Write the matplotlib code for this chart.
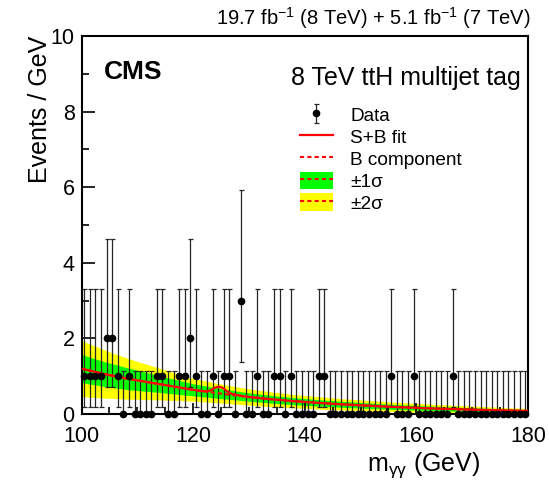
import numpy as np
import matplotlib.pyplot as plt
from matplotlib.lines import Line2D
from matplotlib.patches import Patch

plt.rcParams['font.family'] = ['Liberation Sans', 'DejaVu Sans']
plt.rcParams['mathtext.fontset'] = 'custom'
plt.rcParams['mathtext.rm'] = 'Liberation Sans'
plt.rcParams['mathtext.it'] = 'Liberation Sans:italic'

# events in 1 GeV bins from 100 to 180 GeV
bin_lo = np.arange(100, 180)
counts = [1, 1, 1, 1, 2, 2, 1, 0, 1, 0,
          0, 0, 0, 1, 1, 0, 0, 1, 1, 2,
          1, 0, 0, 1, 0, 1, 1, 0, 3, 0,
          0, 1, 0, 0, 1, 1, 0, 1, 0, 0,
          0, 0, 1, 1, 0, 0, 0, 0, 0, 0,
          0, 0, 0, 0, 0, 1, 0, 0, 0, 1,
          0, 0, 0, 0, 0, 0, 1, 0, 0, 0,
          0, 0, 0, 0, 0, 0, 0, 0, 0, 0]
# 68% Poisson interval for 0, 1, 2, 3 events
pois_lo = [0.0, 0.173, 0.708, 1.367]
pois_hi = [1.148, 3.300, 4.638, 5.918]

# background fit and its uncertainty bands, every 2 GeV
fit_mass = np.arange(100, 181, 2)
bkg = [1.20, 1.13, 1.06, 1.00, 0.94, 0.89, 0.84, 0.79, 0.74, 0.69,
       0.64, 0.60, 0.56, 0.52, 0.485, 0.45, 0.42, 0.39, 0.365, 0.34,
       0.32, 0.30, 0.28, 0.262, 0.245, 0.23, 0.215, 0.20, 0.187, 0.175,
       0.163, 0.152, 0.142, 0.133, 0.124, 0.116, 0.108, 0.101, 0.094, 0.087,
       0.08]
band1 = [0.37, 0.35, 0.33, 0.31, 0.29, 0.27, 0.245, 0.22, 0.20, 0.18,
         0.16, 0.148, 0.137, 0.127, 0.118, 0.11, 0.105, 0.10, 0.096, 0.092,
         0.089, 0.086, 0.083, 0.080, 0.077, 0.074, 0.071, 0.068, 0.066, 0.064,
         0.062, 0.060, 0.058, 0.055, 0.052, 0.050, 0.047, 0.044, 0.041, 0.038,
         0.035]
band2 = [0.74, 0.69, 0.64, 0.59, 0.55, 0.50, 0.46, 0.42, 0.38, 0.34,
         0.30, 0.28, 0.26, 0.245, 0.23, 0.215, 0.205, 0.195, 0.186, 0.178,
         0.17, 0.164, 0.158, 0.152, 0.147, 0.142, 0.137, 0.132, 0.127, 0.122,
         0.118, 0.114, 0.109, 0.104, 0.099, 0.094, 0.089, 0.083, 0.077, 0.071,
         0.065]
# S+B fit around the signal peak
peak_mass = [121, 122, 122.5, 123, 123.5, 124, 124.5, 125, 125.5, 126,
             126.5, 127, 128, 129]
peak_sb = [0.62, 0.60, 0.60, 0.62, 0.66, 0.70, 0.72, 0.71, 0.67, 0.61,
           0.56, 0.53, 0.50, 0.47]

bkg = np.array(bkg)
band1 = np.array(band1)
band2 = np.array(band2)
centers = bin_lo + 0.5
counts = np.array(counts)
lo = np.array([pois_lo[c] for c in counts])
hi = np.array([pois_hi[c] for c in counts])

outside = (fit_mass < peak_mass[0]) | (fit_mass > peak_mass[-1])
sb_mass = np.concatenate([fit_mass[outside], peak_mass])
sb_vals = np.concatenate([bkg[outside], peak_sb])
order = np.argsort(sb_mass)
sb_mass, sb_vals = sb_mass[order], sb_vals[order]

fig = plt.figure(figsize=(5.49, 4.8), dpi=100)
ax = fig.add_axes([81.5 / 549, 1 - 414 / 480, 446.5 / 549, 378 / 480])

yellow = '#ffff00'
green = '#00ff00'
red = '#ff0000'
dots = (0, (2, 1.5))

ax.fill_between(fit_mass, bkg - band2, bkg + band2, color=yellow, lw=0, zorder=1)
ax.fill_between(fit_mass, bkg - band1, bkg + band1, color=green, lw=0, zorder=1.1)

eb = ax.errorbar(centers, counts, yerr=[counts - lo, hi - counts], fmt='o',
                 color='k', ms=4.5, ecolor='0.15', elinewidth=0.9,
                 capsize=1.8, capthick=0.9)
eb[0].set_zorder(6)
eb[0].set_clip_on(False)
for c in eb[1]:
    c.set_zorder(2)
for c in eb[2]:
    c.set_zorder(2)

bkg_line, = ax.plot(fit_mass, bkg, color=red, ls=dots, lw=1.5, zorder=3)
sb_line, = ax.plot(sb_mass, sb_vals, color=red, lw=1.6, zorder=4)

ax.set_xlim(100, 180)
ax.set_ylim(0, 10)
ax.set_xticks(np.arange(100, 181, 20))
ax.set_xticks(np.arange(100, 181, 5), minor=True)
ax.set_yticks(np.arange(0, 11, 2))
ax.set_yticks(np.arange(0, 11, 1), minor=True)
ax.tick_params(which='both', direction='in', top=False, right=False, width=1.2,
               labelsize=15.5)
ax.tick_params(axis='x', which='major', length=8, pad=8.5)
ax.tick_params(axis='x', which='minor', length=5)
ax.tick_params(axis='y', which='major', length=9, pad=5)
ax.tick_params(axis='y', which='minor', length=5)
for s in ax.spines.values():
    s.set_linewidth(1.5)

ax.text(0.05, 0.905, 'CMS', transform=ax.transAxes, fontsize=19,
        fontweight='bold', va='center', ha='left')
ax.text(0.984, 0.889, '8 TeV ttH multijet tag', transform=ax.transAxes,
        fontsize=18, va='center', ha='right')
fig.text(530 / 549, 1 - 18 / 480,
         r'19.7 fb$^{-1}$ (8 TeV) + 5.1 fb$^{-1}$ (7 TeV)',
         fontsize=14.5, ha='right', va='center')
fig.text(40 / 549, 1 - 36 / 480, 'Events / GeV', rotation=90, fontsize=18,
         ha='center', va='top')
fig.text(480 / 549, 1 - 465 / 480, r'm$_{\mathrm{\gamma\gamma}}$ (GeV)',
         fontsize=18, ha='right', va='center')

handles = [eb, sb_line, bkg_line,
           (Patch(color=green, lw=0), Line2D([], [], color=red, ls=dots, lw=1.5)),
           (Patch(color=yellow, lw=0), Line2D([], [], color=red, ls=dots, lw=1.5))]
labels = ['Data', 'S+B fit', 'B component', '±1σ', '±2σ']
ax.legend(handles, labels, loc='upper left', bbox_to_anchor=(0.489, 0.815),
          frameon=False, fontsize=13.7, handlelength=1.75, handleheight=1.0,
          handletextpad=0.9, labelspacing=0.15, borderaxespad=0, borderpad=0)

fig.savefig('out.png', dpi=100)
